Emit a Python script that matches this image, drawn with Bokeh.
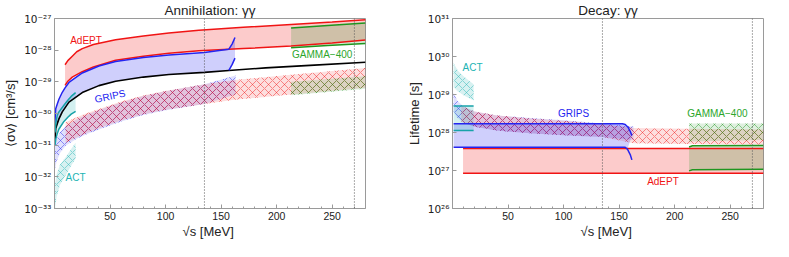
import numpy as np
from bokeh.plotting import figure
from bokeh.models import Range1d, FixedTicker, CustomJSTickFormatter, Span
from bokeh.layouts import row
from bokeh.embed import file_html
from bokeh.resources import INLINE
from bokeh.core.properties import value

# ---------------- data (y given as log10) ----------------
# Annihilation panel: <sigma v> [cm^3/s]
ann_adept_x = [9.5, 12, 16, 20, 25, 35, 55, 80, 103, 130, 170, 213, 250, 280]
ann_adept_hi_exp = [-28.46, -28.33, -28.19, -28.05, -27.95, -27.82, -27.67, -27.55, -27.46, -27.37, -27.28, -27.19, -27.11, -27.04]
ann_adept_lo_exp = [-29.11, -28.98, -28.85, -28.77, -28.68, -28.53, -28.32, -28.19, -28.10, -28.02, -27.95, -27.87, -27.77, -27.68]

ann_grips_hi_x = [0.3, 1.1, 2.5, 4, 7, 9.5, 13, 25, 40, 55, 80, 103, 135, 150, 157, 160, 162.5]
ann_grips_hi_exp = [-30.3, -29.85, -29.70, -29.55, -29.33, -29.19, -29.02, -28.72, -28.50, -28.36, -28.23, -28.15, -28.07, -28.00, -27.97, -27.80, -27.60]
ann_grips_lo_x = [0.3, 1.1, 2.5, 4, 7, 13, 25, 40, 55, 80, 103, 135, 157, 160, 162.5]
ann_grips_lo_exp = [-30.95, -30.47, -30.32, -30.17, -29.95, -29.64, -29.34, -29.12, -28.98, -28.85, -28.77, -28.70, -28.64, -28.45, -28.25]

ann_ref_x = [0.3, 1.1, 2.5, 4, 7, 13, 25, 40, 55, 80, 103, 135, 157, 190, 230, 280]
ann_ref_exp = [-30.95, -30.47, -30.32, -30.17, -29.95, -29.64, -29.34, -29.12, -28.98, -28.85, -28.77, -28.70, -28.64, -28.56, -28.48, -28.38]

ann_act_x = [0.5, 1.2, 2.5, 4, 8.5, 12, 15, 19]
ann_act_hi_exp = [-30.6, -30.3, -30.05, -29.95, -29.74, -29.58, -29.46, -29.34]
ann_act_lo_exp = [-31.0, -30.8, -30.63, -30.49, -30.25, -30.12, -30.02, -29.93]

ann_gamma_x = [213, 246, 280]
ann_gamma_hi_exp = [-27.30, -27.22, -27.14]
ann_gamma_lo_exp = [-27.92, -27.85, -27.79]

ann_adept_proj_x = [10, 20, 30, 45, 60, 80, 100, 135, 160, 213, 280]
ann_adept_proj_hi_exp = [-30.28, -30.12, -29.98, -29.80, -29.62, -29.43, -29.29, -29.08, -28.95, -28.78, -28.56]
ann_adept_proj_lo_exp = [-30.92, -30.76, -30.60, -30.40, -30.22, -30.02, -29.88, -29.70, -29.57, -29.40, -29.19]
ann_grips_proj_x = [0.5, 2, 5, 10, 20, 30, 45, 60, 80, 100, 135, 163]
ann_grips_proj_hi_exp = [-31.0, -30.8, -30.6, -30.40, -30.18, -30.02, -29.83, -29.65, -29.45, -29.30, -29.08, -28.80]
ann_grips_proj_lo_exp = [-31.75, -31.5, -31.25, -31.02, -30.80, -30.64, -30.44, -30.25, -30.05, -29.90, -29.70, -29.40]
ann_act_proj_x = [0.5, 2, 5, 10, 15, 19]
ann_act_proj_hi_exp = [-32.2, -31.9, -31.62, -31.38, -31.12, -30.92]
ann_act_proj_lo_exp = [-33.0, -32.6, -32.25, -31.95, -31.65, -31.42]
ann_gamma_proj_x = [213, 280]
ann_gamma_proj_hi_exp = [-29.0, -28.82]
ann_gamma_proj_lo_exp = [-29.42, -29.22]

# Decay panel: lifetime [s]
dec_adept_x = [9.5, 280]
dec_adept_hi_exp = [27.58, 27.58]
dec_adept_lo_exp = [26.93, 26.93]

dec_grips_hi_x = [1, 153, 155.5, 158, 160, 161.5]
dec_grips_hi_exp = [28.23, 28.23, 28.21, 28.14, 28.03, 27.92]
dec_grips_lo_x = [1, 155.5, 157.5, 160, 161.5]
dec_grips_lo_exp = [27.61, 27.61, 27.56, 27.42, 27.28]

dec_act_x = [1, 19]
dec_act_hi_exp = [28.70, 28.70]
dec_act_lo_exp = [28.05, 28.05]

dec_gamma_x = [213, 216, 280]
dec_gamma_hi_exp = [27.62, 27.65, 27.66]
dec_gamma_lo_exp = [26.99, 27.02, 27.03]

dec_grips_proj_x = [1, 4, 10, 20, 40, 70, 100, 135, 163]
dec_grips_proj_hi_exp = [29.05, 28.85, 28.68, 28.55, 28.45, 28.38, 28.32, 28.24, 28.16]
dec_grips_proj_lo_exp = [28.55, 28.40, 28.25, 28.15, 28.05, 27.98, 27.93, 27.88, 27.80]
dec_adept_proj_x = [8, 20, 40, 70, 100, 135, 163, 213, 280]
dec_adept_proj_hi_exp = [28.70, 28.55, 28.45, 28.37, 28.31, 28.22, 28.12, 28.10, 28.08]
dec_adept_proj_lo_exp = [28.28, 28.15, 28.05, 27.98, 27.93, 27.88, 27.72, 27.70, 27.68]
dec_act_proj_x = [1, 5, 10, 15, 19]
dec_act_proj_hi_exp = [29.82, 29.62, 29.48, 29.36, 29.27]
dec_act_proj_lo_exp = [29.20, 29.08, 28.98, 28.90, 28.84]
dec_gamma_proj_x = [213, 280]
dec_gamma_proj_hi_exp = [28.24, 28.24]
dec_gamma_proj_lo_exp = [27.76, 27.80]

x_major_ticks = [50, 100, 150, 200, 250]
x_minor_ticks = list(range(10, 280, 10))
ann_decades = [-33, -32, -31, -30, -29, -28, -27]
dec_decades = [26, 27, 28, 29, 30, 31]
mass_lines = [135, 270]

# ---------------- styling ----------------
RED = "#f01414"
BLUE = "#2424f0"
TEAL = "#17a2a8"
TEAL_TXT = "#22b4b4"
GREEN = "#1f961f"
GREEN_TXT = "#2ca62c"
FONT = "Liberation Sans"
FRAME = "#9a9a9a"


def v(e):
    return list(10.0 ** np.asarray(e, dtype=float))


SUP = CustomJSTickFormatter(code="""
const e = Math.round(Math.log10(tick));
const m = {"-":"\u207b","0":"\u2070","1":"\u00b9","2":"\u00b2","3":"\u00b3","4":"\u2074","5":"\u2075","6":"\u2076","7":"\u2077","8":"\u2078","9":"\u2079"};
return "10" + String(e).split("").map(c => m[c]).join("");
""")


def make_fig(title, ylabel, ylo, yhi, decades, mbl, mbr):
    p = figure(frame_width=311, frame_height=190, output_backend="svg", toolbar_location=None,
               x_range=Range1d(0, 280), y_range=Range1d(10.0 ** ylo, 10.0 ** yhi),
               y_axis_type="log", min_border_left=mbl, min_border_right=mbr,
               min_border_top=14, min_border_bottom=0)
    p.title.text = title
    p.title.align = "center"
    p.title.text_font = FONT
    p.title.text_font_size = "13.5px"
    p.title.text_font_style = "normal"
    p.title.text_color = "#222222"
    p.title.standoff = 1
    p.xgrid.visible = False
    p.ygrid.visible = False
    p.outline_line_color = FRAME
    p.background_fill_color = "white"
    p.border_fill_color = "white"
    p.xaxis.ticker = FixedTicker(ticks=x_major_ticks, minor_ticks=x_minor_ticks)
    p.yaxis.ticker = FixedTicker(ticks=[10.0 ** d for d in decades])
    p.yaxis.formatter = SUP
    p.xaxis.axis_label = "√s  [MeV]"
    p.yaxis.axis_label = ylabel
    for ax in p.axis:
        ax.axis_line_color = FRAME
        ax.major_tick_line_color = FRAME
        ax.minor_tick_line_color = FRAME
        ax.major_tick_in = 4
        ax.major_tick_out = 0
        ax.minor_tick_in = 2
        ax.minor_tick_out = 0
        ax.major_label_text_color = "#222222"
        ax.axis_label_text_font = FONT
        ax.axis_label_text_font_size = "13px"
        ax.axis_label_text_font_style = "normal"
        ax.axis_label_text_color = "#222222"
    p.xaxis.major_label_text_font = FONT
    p.xaxis.major_label_text_font_size = "10.5px"
    p.xaxis.major_label_standoff = 3
    p.xaxis.axis_label_standoff = 1
    p.yaxis.major_label_text_font = "DejaVu Sans"
    p.yaxis.major_label_text_font_size = "10.5px"
    p.yaxis.major_label_standoff = 3
    p.yaxis.axis_label_standoff = 3
    for loc in mass_lines:
        p.add_layout(Span(location=loc, dimension="height", line_color="#555555",
                          line_dash="1 2", line_width=1))
    return p


def band(p, xs, lo, hi, color, alpha):
    p.varea(x=xs, y1=v(lo), y2=v(hi), fill_color=color, fill_alpha=alpha,
            hatch_pattern="x", hatch_color=color, hatch_alpha=0.65,
            hatch_scale=8, hatch_weight=0.7)


def fill_patch(p, xh, eh, xl, el, color, alpha):
    xs = list(xh) + list(xl)[::-1]
    ys = v(eh) + v(el)[::-1]
    p.patch(xs, ys, fill_color=color, fill_alpha=alpha, line_color=None)


def label(p, x, y, text, color, angle=0.0):
    p.text(x=[x], y=[y], text=[text], text_color=color, text_font=value(FONT),
           text_font_size="10px", text_align="center", text_baseline="middle", angle=angle)


# ---------------- annihilation panel ----------------
p1 = make_fig("Annihilation: γγ", "⟨σv⟩ [cm³/s]", -33, -27, ann_decades, 48, 33)

band(p1, ann_act_proj_x, ann_act_proj_lo_exp, ann_act_proj_hi_exp, TEAL_TXT, 0.18)
band(p1, ann_grips_proj_x, ann_grips_proj_lo_exp, ann_grips_proj_hi_exp, BLUE, 0.14)
band(p1, ann_adept_proj_x, ann_adept_proj_lo_exp, ann_adept_proj_hi_exp, RED, 0.14)
band(p1, ann_gamma_proj_x, ann_gamma_proj_lo_exp, ann_gamma_proj_hi_exp, GREEN, 0.15)

fill_patch(p1, ann_adept_x, ann_adept_hi_exp, ann_adept_x, ann_adept_lo_exp, RED, 0.22)
fill_patch(p1, ann_grips_hi_x, ann_grips_hi_exp, ann_grips_lo_x, ann_grips_lo_exp, BLUE, 0.22)
fill_patch(p1, ann_act_x, ann_act_hi_exp, ann_act_x, ann_act_lo_exp, TEAL_TXT, 0.2)
fill_patch(p1, ann_gamma_x, ann_gamma_hi_exp, ann_gamma_x, ann_gamma_lo_exp, GREEN, 0.2)

p1.line(ann_ref_x, v(ann_ref_exp), line_color="black", line_width=1.6)
p1.line(ann_adept_x, v(ann_adept_hi_exp), line_color=RED, line_width=1.5)
p1.line(ann_adept_x, v(ann_adept_lo_exp), line_color=RED, line_width=1.5)
p1.line(ann_grips_hi_x, v(ann_grips_hi_exp), line_color=BLUE, line_width=1.5)
p1.line(ann_grips_lo_x[-3:], v(ann_grips_lo_exp[-3:]), line_color=BLUE, line_width=1.5)
p1.line(ann_act_x, v(ann_act_hi_exp), line_color=TEAL, line_width=1.5)
p1.line(ann_act_x, v(ann_act_lo_exp), line_color=TEAL, line_width=1.5)
p1.line(ann_gamma_x, v(ann_gamma_hi_exp), line_color=GREEN, line_width=1.5)
p1.line(ann_gamma_x, v(ann_gamma_lo_exp), line_color=GREEN, line_width=1.5)

label(p1, 28.4, 2.0e-28, "AdEPT", RED)
label(p1, 50, 3.5e-30, "GRIPS", BLUE, 0.22)
label(p1, 19, 9.5e-33, "ACT", TEAL_TXT)
label(p1, 241, 7.4e-29, "GAMMA−400", GREEN_TXT)

# ---------------- decay panel ----------------
p2 = make_fig("Decay: γγ", "Lifetime [s]", 26, 31, dec_decades, 54, 16)

band(p2, dec_act_proj_x, dec_act_proj_lo_exp, dec_act_proj_hi_exp, TEAL_TXT, 0.18)
band(p2, dec_grips_proj_x, dec_grips_proj_lo_exp, dec_grips_proj_hi_exp, BLUE, 0.14)
band(p2, dec_adept_proj_x, dec_adept_proj_lo_exp, dec_adept_proj_hi_exp, RED, 0.14)
band(p2, dec_gamma_proj_x, dec_gamma_proj_lo_exp, dec_gamma_proj_hi_exp, GREEN, 0.15)

fill_patch(p2, dec_adept_x, dec_adept_hi_exp, dec_adept_x, dec_adept_lo_exp, RED, 0.22)
keep = [i for i, xx in enumerate(dec_grips_lo_x) if xx <= 157.5]
fill_patch(p2, dec_grips_hi_x, dec_grips_hi_exp,
           [dec_grips_lo_x[i] for i in keep], [dec_grips_lo_exp[i] for i in keep], BLUE, 0.22)
fill_patch(p2, dec_act_x, dec_act_hi_exp, dec_act_x, dec_act_lo_exp, TEAL_TXT, 0.2)
fill_patch(p2, dec_gamma_x, dec_gamma_hi_exp, dec_gamma_x, dec_gamma_lo_exp, GREEN, 0.2)

p2.line(dec_adept_x, v(dec_adept_hi_exp), line_color=RED, line_width=1.5)
p2.line(dec_adept_x, v(dec_adept_lo_exp), line_color=RED, line_width=1.5)
p2.line(dec_grips_hi_x, v(dec_grips_hi_exp), line_color=BLUE, line_width=1.5)
p2.line(dec_grips_lo_x, v(dec_grips_lo_exp), line_color=BLUE, line_width=1.5)
p2.line(dec_act_x, v(dec_act_hi_exp), line_color=TEAL, line_width=1.5)
p2.line(dec_act_x, v(dec_act_lo_exp), line_color=TEAL, line_width=1.5)
p2.line(dec_gamma_x, v(dec_gamma_hi_exp), line_color=GREEN, line_width=1.5)
p2.line(dec_gamma_x, v(dec_gamma_lo_exp), line_color=GREEN, line_width=1.5)

label(p2, 18, 5.1e29, "ACT", TEAL_TXT)
label(p2, 109, 3.1e28, "GRIPS", BLUE)
label(p2, 238.5, 3.1e28, "GAMMA−400", GREEN_TXT)
label(p2, 189.5, 5.1e26, "AdEPT", RED)

layout = row(p1, p2)
open("out.html", "w").write(file_html(layout, INLINE))
